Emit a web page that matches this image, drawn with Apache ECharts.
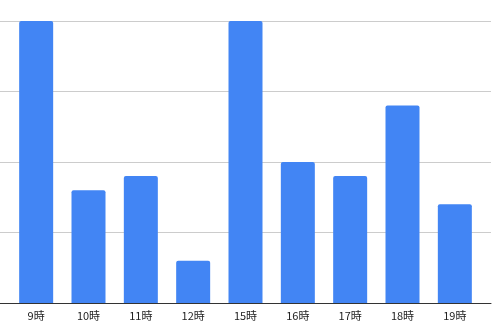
<!DOCTYPE html>
<html><head><meta charset="utf-8">
<script src="https://cdn.jsdelivr.net/npm/echarts@6/dist/echarts.min.js"></script>
<style>html,body{margin:0;padding:0;background:#fff}#c{width:494px;height:329px}</style>
</head><body><div id="c"></div>
<script>
const categories = ['9時','10時','11時','12時','15時','16時','17時','18時','19時'];
const values = [20, 8, 9, 3, 20, 10, 9, 14, 7];
const yMin = 0, yMax = 20, yStep = 5;

const chart = echarts.init(document.getElementById('c'), null, {renderer:'canvas'});
chart.setOption({
  animation: false,
  grid: [
    {left: 0, right: 3, top: 21, bottom: 26},
    {left: 10, right: 13, top: 21, bottom: 26}
  ],
  xAxis: [
    {gridIndex: 0, type: 'value', min: 0, max: 1, show: true,
     axisLine: {show: true, onZero: false, lineStyle: {color: '#333', width: 1}},
     axisTick: {show: false}, axisLabel: {show: false}, splitLine: {show: false}},
    {gridIndex: 1, type: 'category', data: categories, boundaryGap: true,
     axisLine: {show: false},
     axisTick: {show: false},
     axisLabel: {color: '#222', fontSize: 11, fontFamily: 'Noto Sans CJK JP', margin: 7}}
  ],
  yAxis: [
    {gridIndex: 0, type: 'value', min: yMin, max: yMax, interval: yStep,
     axisLine: {show: false}, axisTick: {show: false}, axisLabel: {show: false},
     splitLine: {show: true, lineStyle: {color: '#cccccc', width: 1}}},
    {gridIndex: 1, type: 'value', min: yMin, max: yMax, interval: yStep, show: false,
     splitLine: {show: false}}
  ],
  series: [{
    type: 'bar', xAxisIndex: 1, yAxisIndex: 1,
    data: values, barWidth: 34,
    itemStyle: {color: '#4285f4', borderRadius: [2,2,0,0]}
  }]
});
</script></body></html>
